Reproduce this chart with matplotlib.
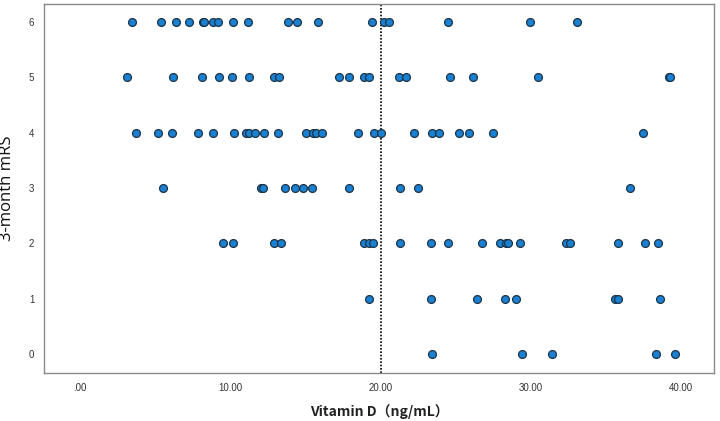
import matplotlib
matplotlib.use("Agg")
import matplotlib.pyplot as plt

plt.rcParams['font.family'] = ['Liberation Sans', 'DejaVu Sans']

mrs6 = [3.47, 5.42, 6.4, 7.27, 8.2, 8.27, 8.85, 9.18, 10.15, 11.18, 13.85, 14.47,
        15.82, 19.45, 20.22, 20.55, 24.49, 29.98, 33.11]
mrs5 = [3.13, 6.2, 8.11, 9.22, 10.13, 11.22, 12.89, 13.24, 17.22, 17.87, 18.87,
        19.22, 21.2, 21.73, 24.62, 26.13, 30.47, 39.18, 39.29]
mrs4 = [3.71, 5.22, 6.13, 7.82, 8.85, 10.22, 11.07, 11.25, 11.67, 12.27, 13.18,
        15.02, 15.51, 15.73, 16.11, 18.47, 19.55, 20.0, 22.22, 23.45, 23.91, 25.22,
        25.91, 27.51, 37.45]
mrs3 = [5.55, 12.02, 12.18, 13.64, 14.33, 14.87, 15.44, 17.89, 21.31, 22.47, 36.64]
mrs2 = [9.53, 10.2, 12.89, 13.38, 18.89, 19.22, 19.51, 21.31, 23.33, 24.47, 26.75,
        27.98, 28.38, 28.51, 29.31, 32.38, 32.6, 35.78, 37.6, 38.49]
mrs1 = [19.22, 23.38, 26.4, 28.27, 29.0, 35.58, 35.78, 38.62]
mrs0 = [23.42, 29.42, 31.44, 38.33, 39.6]

groups = {6: mrs6, 5: mrs5, 4: mrs4, 3: mrs3, 2: mrs2, 1: mrs1, 0: mrs0}
cutoff = 20
xticks = [0, 10, 20, 30, 40]
xticklabels = ['.00', '10.00', '20.00', '30.00', '40.00']
yticks = [0, 1, 2, 3, 4, 5, 6]

fig = plt.figure(figsize=(7.2, 4.21), dpi=100)
ax = fig.add_axes([44/720, 48/421, 670/720, 369/421])

for score, vals in groups.items():
    ax.scatter(vals, [score]*len(vals), s=32, color='#1a80d2',
               edgecolors='#1c3448', linewidths=0.9, zorder=3)

ax.axvline(cutoff, color='black', linestyle=(0, (1, 1)), linewidth=1.2, zorder=2)

ax.set_xlim(-2.4, 42.2)
ax.set_ylim(-0.34, 6.32)
ax.set_xticks(xticks)
ax.set_xticklabels(xticklabels, fontsize=7, color='#333333')
ax.set_yticks(yticks)
ax.set_yticklabels([str(v) for v in yticks], fontsize=7, color='#333333')
ax.tick_params(length=0, pad=7)
for sp in ax.spines.values():
    sp.set_color('#8a8a8a')
    sp.set_linewidth(1.0)

ax.set_xlabel('Vitamin D（ng/mL）', fontsize=10, fontweight='bold', color='#222222',
              family=['Noto Sans CJK SC', 'DejaVu Sans'], labelpad=8)
ax.set_ylabel('3-month mRS', fontsize=12, color='#111111',
              family=['Open Sans', 'DejaVu Sans'])
ax.yaxis.set_label_coords(-0.043, 0.5)

fig.savefig('out.png', dpi=100)
